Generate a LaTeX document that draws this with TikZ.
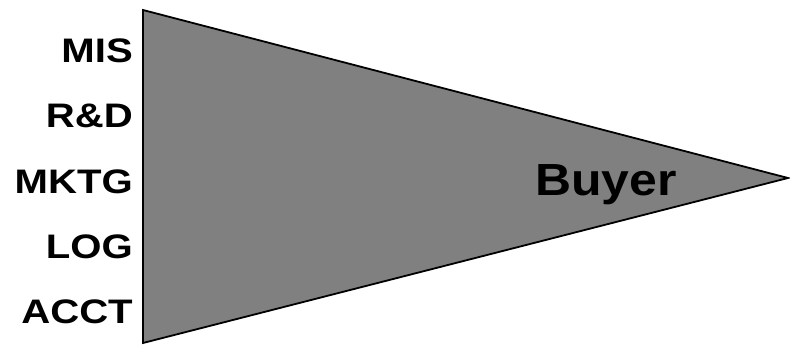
\documentclass[tikz,border=0pt]{standalone}
\usepackage{fontspec}
\setmainfont{Liberation Sans}
\begin{document}
\begin{tikzpicture}[x=1pt,y=-1pt,
  lbl/.style={font=\fontsize{34}{34}\selectfont\bfseries, anchor=base east, inner sep=0pt, xscale=1.18},
  big/.style={font=\fontsize{45}{45}\selectfont\bfseries, anchor=base, inner sep=0pt, xscale=1.11}]
\useasboundingbox (0,0) rectangle (790,345);
\coordinate (tl) at (143,10);
\coordinate (bl) at (143,343);
\coordinate (tip) at (788,178);
\draw[fill={rgb,255:red,128;green,128;blue,128}, line width=1.8pt, line join=miter] (tl) -- (tip) -- (bl) -- cycle;
\node[lbl] (mis) at (133,63) {MIS};
\node[lbl] (rd) at (133,128) {R\&D};
\node[lbl] (mktg) at (133,193) {MKTG};
\node[lbl] (log) at (133,258) {LOG};
\node[lbl] (acct) at (133,323) {ACCT};
\node[big] (buyer) at (606,195) {Buyer};
\end{tikzpicture}
\end{document}
